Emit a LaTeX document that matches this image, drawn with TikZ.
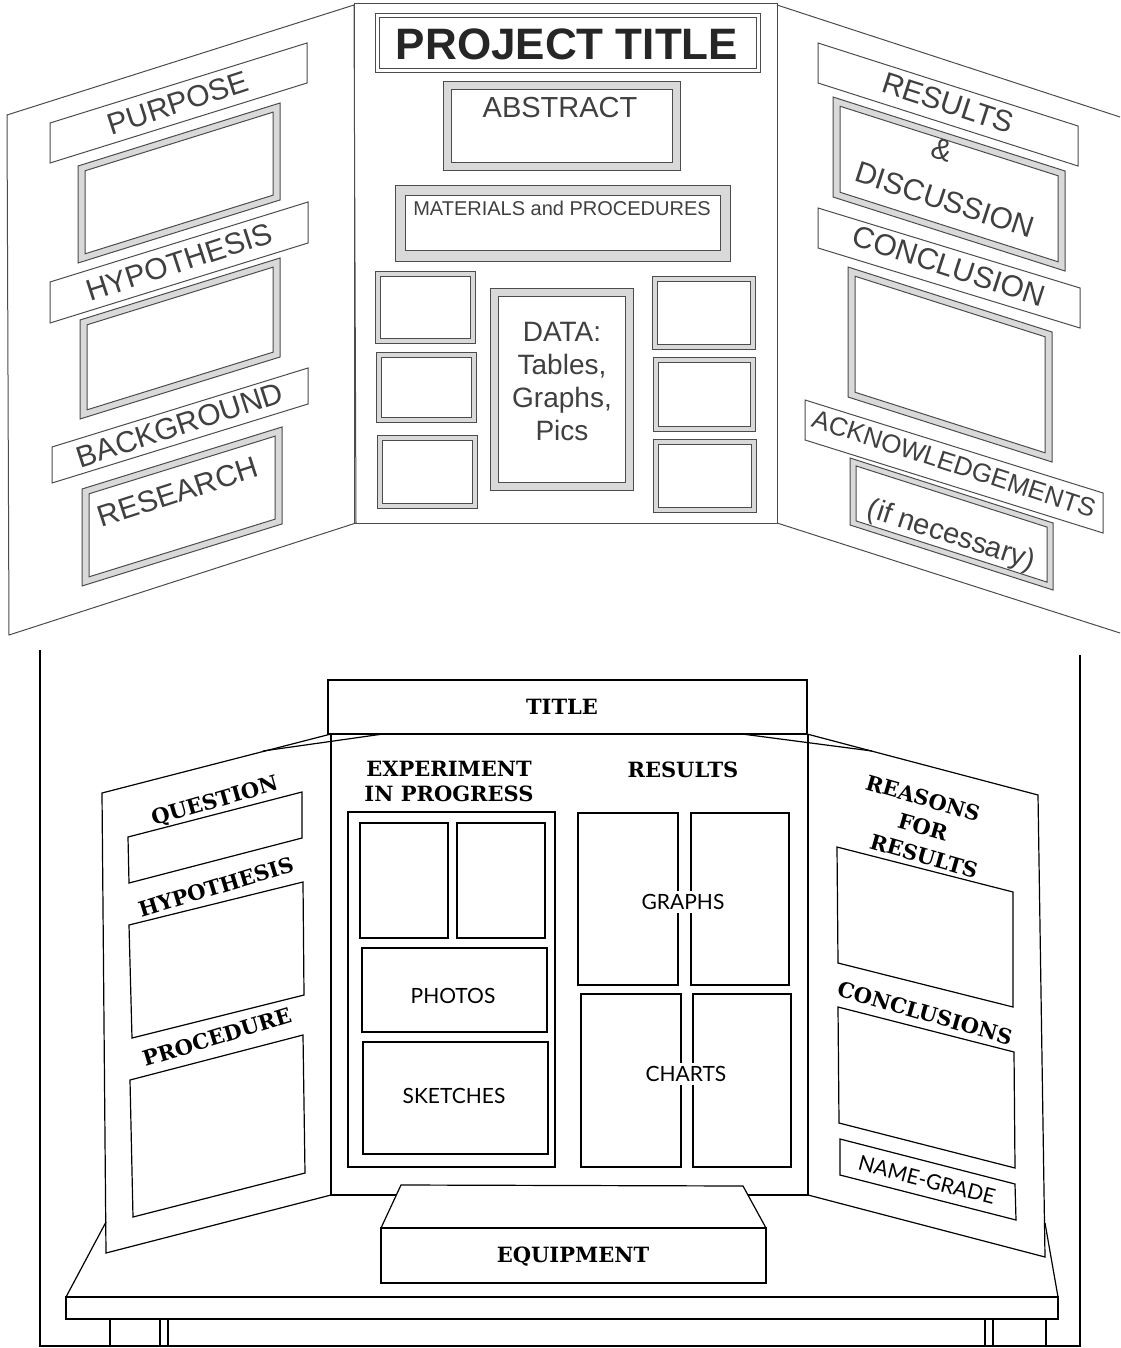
\documentclass[tikz,border=0pt]{standalone}
\usepackage{fontspec}
\setmainfont{Liberation Sans}
\newfontfamily\hdfont{DejaVu Serif}
\newfontfamily\ltfont{Lato}
\tikzset{
  tl/.style={draw=black!70, line width=0.5pt},
  bl/.style={draw=black, line width=0.6pt},
  lab/.style={font=\fontsize{15}{18}\selectfont, text=black!75, inner sep=0pt},
  hd/.style={font=\hdfont\bfseries\fontsize{10.5}{12.5}\selectfont, inner sep=0pt},
  lt/.style={font=\ltfont\fontsize{10.5}{12}\selectfont, inner sep=1.5pt},
}
% slanted label strip: x1 y1(top-left) x2 y2(top-right) height
\newcommand\lpar[5]{\draw[tl,fill=white] (#1,#2) -- (#3,#4) -- (#3,{#4+#5}) -- (#1,{#2+#5}) -- cycle;}
% double framed slanted box: [gapfill] x1 y1 x2 y2 height inset
\newcommand\dpar[7][black!15]{%
  \pgfmathsetmacro\myslope{(#5-#3)/(#4-#2)}%
  \draw[tl,fill=#1] (#2,#3) -- (#4,#5) -- (#4,{#5+#6}) -- (#2,{#3+#6}) -- cycle;
  \draw[tl,fill=white] ({#2+#7},{#3+#7+(\myslope)*#7}) -- ({#4-#7},{#5+#7-(\myslope)*#7}) -- ({#4-#7},{#5-(\myslope)*#7+#6-#7}) -- ({#2+#7},{#3+(\myslope)*#7+#6-#7}) -- cycle;}
\begin{document}
\begin{tikzpicture}[x=0.5pt,y=-0.5pt]
\useasboundingbox (0,0) rectangle (1120,1348);
\fill[white] (0,0) rectangle (1120,1348);

% ================= TOP BOARD =================
% left panel
\draw[tl] (7,115) -- (354,5) -- (356,523) -- (9,635) -- cycle;
% right panel
\draw[tl] (777,5) -- (1120,117);
\draw[tl] (777,523) -- (1120,633);
% middle panel
\draw[tl] (354,4) rectangle (777,523);

% left panel content
\dpar{78}{166}{280}{103}{97}{7}
\dpar{80}{320}{280}{258}{99}{7}
\dpar{82}{489}{282}{427}{97}{7}
\lpar{50}{123}{307}{43}{40}
\lpar{50}{282}{308}{202}{41}
\lpar{52}{447}{308}{368}{36}
\node[lab, rotate=18] (tpurpose) at (178,103) {PURPOSE};
\node[lab, rotate=18] (thyp) at (179,262) {HYPOTHESIS};
\node[lab, rotate=18] (tback) at (180,425) {BACKGROUND};
\node[lab, rotate=18] (tresearch) at (178,492) {RESEARCH};

% right panel content
\dpar{833}{97}{1065}{171}{100}{7}
\dpar{848}{267}{1052}{332}{130}{7}
\dpar{850}{458}{1053}{523}{67}{6}
\lpar{818}{43}{1078}{126}{40}
\lpar{818}{208}{1080}{288}{40}
\lpar{805}{400}{1103}{493}{40}
\node[lab, rotate=-18] (tresults) at (948,103) {RESULTS};
\node[lab, rotate=-18] (tamp) at (942,150) {\&};
\node[lab, rotate=-18] (tdisc) at (945,200) {DISCUSSION};
\node[lab, rotate=-18] (tconc) at (949,266) {CONCLUSION};
\node[lab, rotate=-18, font=\fontsize{13}{15}\selectfont] (tack) at (954,464) {ACKNOWLEDGEMENTS};
\node[lab, rotate=-18, font=\fontsize{14.5}{17}\selectfont] (tifnec) at (951,536) {(if necessary)};

% middle panel content
\dpar[white]{375}{14}{760}{14}{59}{4}
\node[lab, text=black!85, font=\bfseries\fontsize{22}{24}\selectfont] (tproj) at (567,44) {PROJECT TITLE};
\dpar{443}{82}{680}{82}{89}{8}
\node[lab, font=\fontsize{14.5}{16}\selectfont] (tabs) at (560,108) {ABSTRACT};
\dpar{395}{186}{730}{186}{75}{10}
\node[lab, font=\fontsize{10}{12}\selectfont] (tmat) at (562,208) {MATERIALS and PROCEDURES};
\dpar{375}{271}{475}{271}{72}{5}
\dpar{376}{352}{476}{352}{70}{5}
\dpar{377}{435}{477}{435}{73}{5}
\dpar{490}{288}{633}{288}{202}{8}
\node[lab, align=center, font=\fontsize{14}{16.5}\selectfont] (tdata) at (562,382) {DATA:\\Tables,\\Graphs,\\Pics};
\dpar{652}{276}{755}{276}{73}{5}
\dpar{653}{357}{755}{357}{74}{5}
\dpar{653}{439}{756}{439}{73}{5}

% ================= BOTTOM BOARD =================
\draw[bl] (40,650) -- (40,1346) -- (1080,1346) -- (1080,655);
% title header
\draw[bl] (328,680) rectangle (807,734);
\node[hd] (btitle) at (562,707) {TITLE};
% left panel
\draw[bl] (331,734) -- (102,793) -- (106,1253) -- (331,1195);
\draw[bl] (263,751) -- (383,734);
% middle panel
\draw[bl] (331,734) -- (331,1195) -- (808,1195) -- (808,734);
% right panel
\draw[bl] (807,734) -- (1038,795) -- (1045,1257) -- (808,1195);
\draw[bl] (742,734) -- (872,751);

% left panel content
\node[hd, rotate=16] (bquest) at (215,802) {QUESTION};
\draw[bl] (128,837) -- (302,792) -- (302,838) -- (129,883) -- cycle;
\node[hd, rotate=17] (bhyp) at (216,887) {HYPOTHESIS};
\draw[bl] (129,925) -- (303,882) -- (304,995) -- (132,1038) -- cycle;
\node[hd, rotate=17] (bproc) at (217,1037) {PROCEDURE};
\draw[bl] (130,1080) -- (303,1035) -- (305,1173) -- (133,1217) -- cycle;

% middle panel content
\node[hd, align=center] (bexp) at (449,781) {EXPERIMENT\\IN PROGRESS};
\draw[bl] (348,812) rectangle (555,1167);
\draw[bl] (360,823) rectangle (448,938);
\draw[bl] (457,823) rectangle (545,938);
\draw[bl] (362,948) rectangle (547,1032);
\node[lt] (bphotos) at (453,996) {PHOTOS};
\draw[bl] (363,1042) rectangle (548,1154);
\node[lt] (bsketch) at (454,1096) {SKETCHES};
\node[hd] (bresults) at (683,770) {RESULTS};
\draw[bl] (578,813) rectangle (678,985);
\draw[bl] (691,813) rectangle (789,985);
\draw[bl] (581,994) rectangle (681,1167);
\draw[bl] (693,994) rectangle (791,1167);
\node[lt, fill=white] (bgraphs) at (683,902) {GRAPHS};
\node[lt, fill=white] (bcharts) at (686,1074) {CHARTS};

% right panel content
\node[hd, rotate=-16] (breas) at (923,798) {REASONS};
\node[hd, rotate=-16] (bfor) at (923,827) {FOR};
\node[hd, rotate=-16] (bres2) at (924,856) {RESULTS};
\draw[bl] (837,847) -- (1013,892) -- (1013,1007) -- (838,963) -- cycle;
\node[hd, rotate=-16] (bconc) at (925,1013) {CONCLUSIONS};
\draw[bl] (838,1007) -- (1014,1052) -- (1015,1168) -- (839,1123) -- cycle;
\draw[bl] (840,1139) -- (1015,1184) -- (1016,1220) -- (840,1175) -- cycle;
\node[lt, rotate=-14.5] (bname) at (927,1180) {NAME-GRADE};

% table
\draw[bl] (106,1222) -- (66,1297) -- (1058,1297) -- (1045,1223);
\draw[bl] (66,1297) rectangle (1058,1319);
\foreach \lx in {110,160,168,985,993,1046} \draw[bl] (\lx,1319) -- (\lx,1346);

% equipment box
\draw[bl, fill=white] (401,1185) -- (743,1186) -- (766,1228) -- (381,1228) -- cycle;
\draw[bl, fill=white] (381,1228) rectangle (766,1283);
\node[hd] (bequip) at (573,1257) {EQUIPMENT};
\end{tikzpicture}
\end{document}
